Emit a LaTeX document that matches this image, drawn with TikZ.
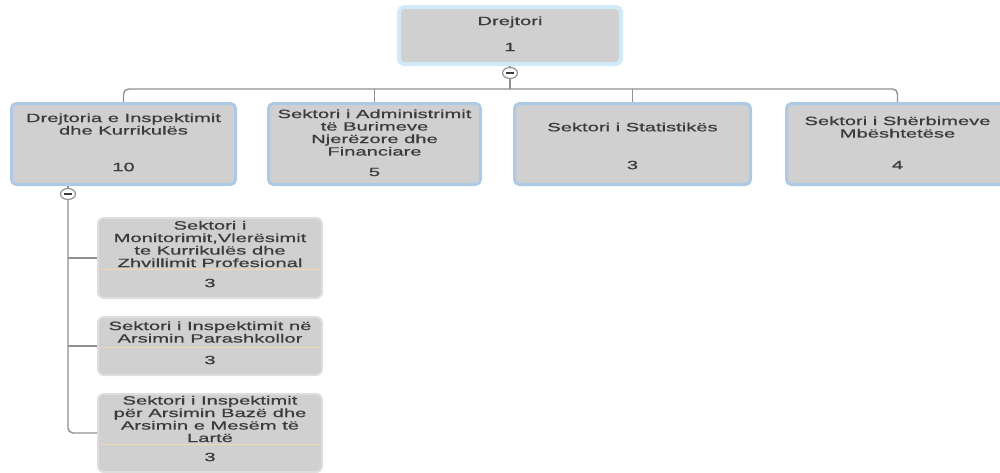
\documentclass[tikz,border=0pt]{standalone}
\usepackage{fontspec}
\newfontfamily\orgfont[FakeStretch=1.68, FakeBold=0.7]{Liberation Sans}
\usetikzlibrary{shapes.geometric}

\definecolor{boxgray}{RGB}{208,208,208}
\definecolor{topblue}{RGB}{208,234,247}
\definecolor{edgeblue}{RGB}{172,202,230}
\definecolor{childedge}{RGB}{222,222,222}
\definecolor{sepline}{RGB}{246,214,172}
\definecolor{linkgray}{RGB}{145,145,145}
\definecolor{txtgray}{RGB}{60,58,58}

\begin{document}
\begin{tikzpicture}[x=1pt, y=-1pt,
    unit/.style={fill=boxgray, inner sep=0pt},
    head/.style={unit, draw=topblue, line width=4pt, rounded corners=5pt, minimum width=222pt, minimum height=57pt},
    dept/.style={unit, draw=edgeblue, line width=3pt, rounded corners=5pt, minimum height=81pt},
    sect/.style={unit, draw=childedge, line width=2pt, rounded corners=6pt, minimum width=224pt},
    txt/.style={font=\orgfont\fontsize{12}{12.5}\selectfont, text=txtgray, align=center, inner sep=0pt},
    link/.style={draw=linkgray, line width=1.4pt},
    toggle/.style={ellipse, draw=linkgray, line width=1.2pt, fill=white, minimum width=15pt, minimum height=11pt, inner sep=0pt},
    sep/.style={draw=sepline, line width=0.8pt},
  ]
    \useasboundingbox (0,0) rectangle (1000,472);
    \clip (0,0) rectangle (1000,472);

    % head
    \node[head] (d0) at (510, 35.5) {};
    \node[txt] at (510, 22) {Drejtori};
    \node[txt] at (510, 47) {1};

    % departments
    \node[dept, minimum width=224pt] (d1) at (123.5, 144) {};
    \node[dept, minimum width=212pt] (d2) at (374.5, 144) {};
    \node[dept, minimum width=236pt] (d3) at (632.5, 144) {};
    \node[dept, minimum width=222pt] (d4) at (897.5, 144) {};
    \foreach \x/\ty/\title/\ny/\num in {
        123.5/124/{Drejtoria e Inspektimit\\dhe Kurrikulës}/167/10,
        374.5/132.5/{Sektori i Administrimit\\të Burimeve\\Njerëzore dhe\\Financiare}/172/5,
        632.5/127/{Sektori i Statistikës}/165/3,
        897.5/127/{Sektori i Shërbimeve\\Mbështetëse}/165/4} {
      \node[txt] at (\x, \ty) {\title};
      \node[txt] at (\x, \ny) {\num};
    }

    % sectors under d1
    \node[sect, minimum height=80pt] (s1) at (210, 258) {};
    \node[sect, minimum height=58pt] (s2) at (210, 346) {};
    \node[sect, minimum height=78pt] (s3) at (210, 433) {};
    \foreach \s/\ty/\title/\ly/\ny in {
        s1/244/{Sektori i\\Monitorimit,Vlerësimit\\te Kurrikulës dhe\\Zhvillimit Profesional}/269/283,
        s2/332/{Sektori i Inspektimit në\\Arsimin Parashkollor}/347/360,
        s3/419/{Sektori i Inspektimit\\për Arsimin Bazë dhe\\Arsimin e Mesëm të\\Lartë}/444/457} {
      \node[txt] at (210, \ty) {\title};
      \draw[sep] (100, \ly) -- (320, \ly);
      \node[txt] at (210, \ny) {3};
    }

    % links
    \coordinate (bus) at (510, 89);
    \node[toggle] (tg0) at (510, 73) {};
    \node[toggle] (tg1) at (68, 194) {};
    \draw[link] (d0.south) -- (tg0.north);
    \draw[link] (tg0.south) -- (bus);
    \draw[link, rounded corners=5pt] (d1.north) |- (bus) -| (d4.north);
    \draw[link] (d2.north) -- (d2.north |- bus);
    \draw[link] (d3.north) -- (d3.north |- bus);
    \draw[link] (tg1.north) -- (tg1.north |- d1.south);
    \draw[link, rounded corners=5pt] (tg1.south) |- (s3.west);
    \draw[link] (s1.west) -- (s1.west -| tg1.south);
    \draw[link] (s2.west) -- (s2.west -| tg1.south);
    \foreach \t in {tg0, tg1}
      \draw[draw=txtgray, line width=1.3pt] ([xshift=4pt]\t.west) -- ([xshift=-4pt]\t.east);
  \end{tikzpicture}
\end{document}
